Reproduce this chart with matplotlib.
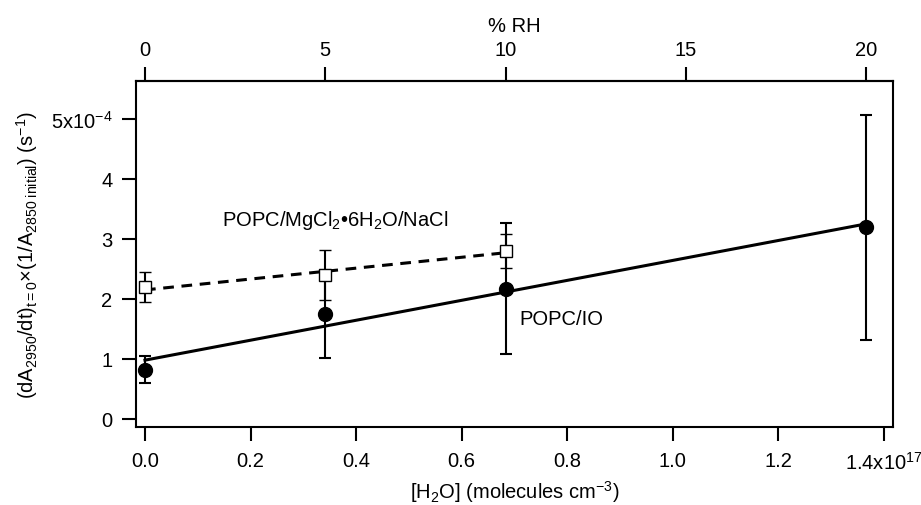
import numpy as np
import matplotlib
matplotlib.use("Agg")
import matplotlib.pyplot as plt

plt.rcParams['font.family'] = ['Liberation Sans', 'DejaVu Sans']
plt.rcParams['mathtext.fontset'] = 'custom'
plt.rcParams['mathtext.rm'] = 'Liberation Sans'
plt.rcParams['mathtext.it'] = 'Liberation Sans:italic'
plt.rcParams['font.size'] = 14.5

# [H2O] in units of 1e17 molecules cm^-3, rates in units of 1e-4 s^-1
h2o_io = [0.0, 0.342, 0.684, 1.367]
rate_io = [0.82, 1.75, 2.17, 3.19]
err_io = [0.225, 0.74, 1.09, 1.88]

h2o_mg = [0.0, 0.342, 0.684]
rate_mg = [2.20, 2.40, 2.80]
err_mg = [0.255, 0.41, 0.28]

# fit lines (end points)
fit_io_x = [0.0, 1.367]
fit_io_y = [0.98, 3.25]
fit_mg_x = [0.0, 0.684]
fit_mg_y = [2.15, 2.77]

x_ticks = [0.0, 0.2, 0.4, 0.6, 0.8, 1.0, 1.2, 1.4]
x_ticklabels = ['0.0', '0.2', '0.4', '0.6', '0.8', '1.0', '1.2', '1.4x10$^{17}$']
y_ticks = [0, 1, 2, 3, 4, 5]
y_ticklabels = ['0', '1', '2', '3', '4', '5x10$^{-4}$']
rh_ticks = [0, 5, 10, 15, 20]
rh_max_h2o = 1.367  # 20 % RH

fig = plt.figure(figsize=(9.21, 5.06), dpi=100)
ax = fig.add_axes([0.1477, 0.1542, 0.8219, 0.6837])

ax.plot(fit_io_x, fit_io_y, color='black', lw=2.2, zorder=2)
ax.plot(fit_mg_x, fit_mg_y, color='black', lw=2.2, ls=(0, (3.5, 2.5)), zorder=2)

ax.errorbar(h2o_io, rate_io, yerr=err_io, fmt='o', color='black', ms=10,
            elinewidth=1.5, capsize=4.5, capthick=1.5, zorder=3)
ax.errorbar(h2o_mg, rate_mg, yerr=err_mg, fmt='s', color='black', mfc='white',
            ms=9, mew=1.0, elinewidth=1.5, capsize=4.5, capthick=1.5, zorder=3)

ax.text(0.146, 3.33, 'POPC/MgCl$_2$•6H$_2$O/NaCl', va='center', ha='left')
ax.text(0.709, 1.67, 'POPC/IO', va='center', ha='left')

ax.set_xlim(-0.017, 1.418)
ax.set_ylim(-0.133, 5.63)
ax.set_xticks(x_ticks)
ax.set_xticklabels(x_ticklabels)
ax.set_yticks(y_ticks)
ax.set_yticklabels(y_ticklabels)
ax.tick_params(direction='out', length=10, width=1.5, pad=7)

for s in ax.spines.values():
    s.set_linewidth(1.5)

ax.set_xlabel('[H$_2$O] (molecules cm$^{-3}$)', labelpad=4)
ax.set_ylabel('(dA$_{2950}$/dt)$_{\\mathrm{t=0}}$×(1/A$_{\\mathrm{2850\\ initial}}$) (s$^{-1}$)',
              labelpad=8)

top = ax.secondary_xaxis('top', functions=(lambda x: x * 20 / rh_max_h2o,
                                           lambda r: r * rh_max_h2o / 20))
top.set_xticks(rh_ticks)
top.tick_params(direction='out', length=10, width=1.5, pad=6)
top.set_xlabel('% RH', labelpad=6)
top.spines['top'].set_linewidth(1.5)

fig.savefig('out.png', dpi=100)
